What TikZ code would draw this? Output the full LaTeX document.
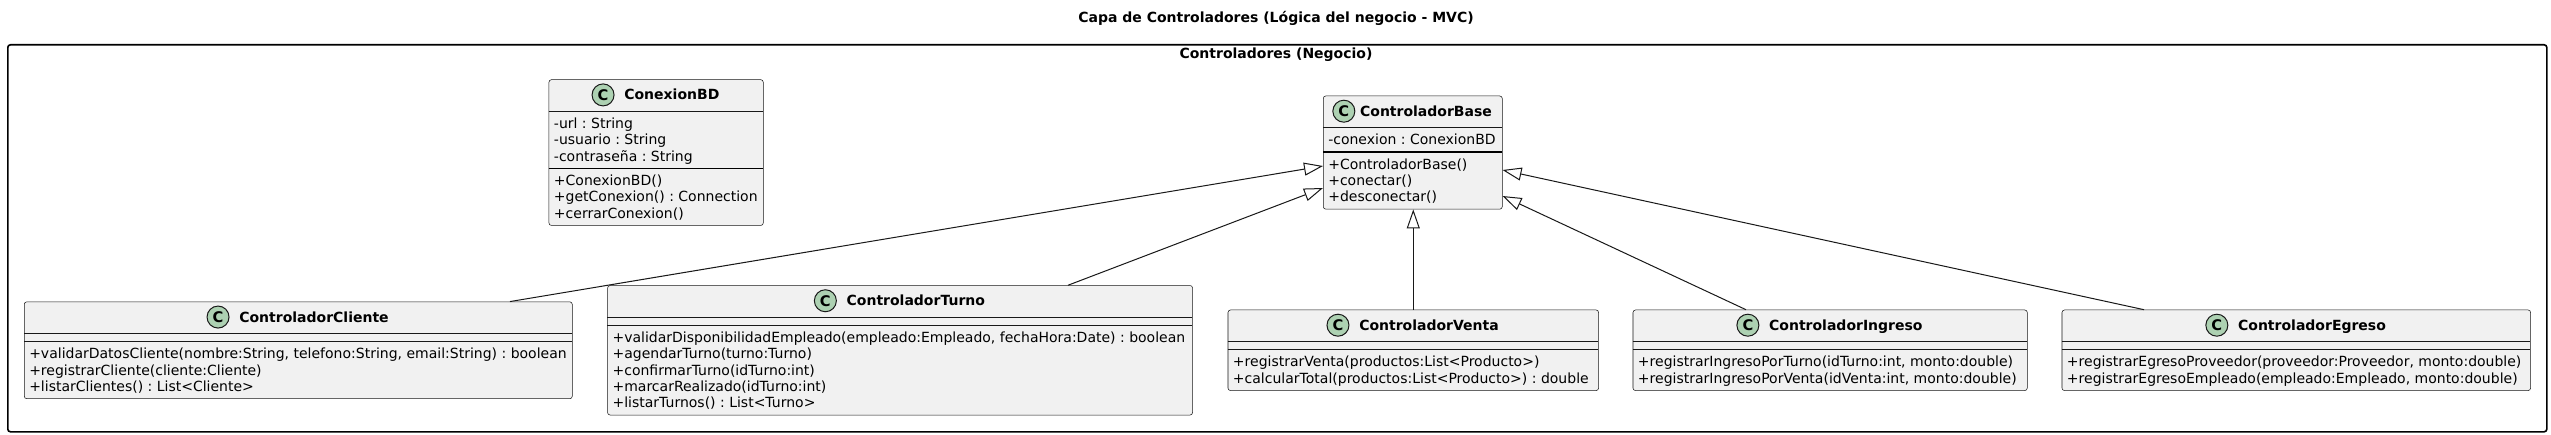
\documentclass[tikz,border=0pt]{standalone}
\usepackage{fontspec}
\setmainfont{DejaVu Sans}
\usetikzlibrary{arrows.meta,calc}
\frenchspacing
\definecolor{umlborder}{HTML}{181818}
\definecolor{umlfill}{HTML}{F1F1F1}
\definecolor{umlicon}{HTML}{ADD1B2}
\newcommand{\memberfont}{\fontsize{10.5}{12.2}\selectfont\frenchspacing}
\newcommand{\namefont}{\fontsize{10.5}{12.2}\selectfont\bfseries\frenchspacing}
\newcommand{\iconfont}{\fontsize{11}{12}\selectfont\bfseries}
\tikzset{
  classbox/.style={draw=umlborder, fill=umlfill, line width=0.4pt, rounded corners=1.9pt, inner sep=0pt, anchor=north west},
  sepline/.style={draw=umlborder, line width=0.4pt},
  strongsep/.style={draw=black, line width=0.8pt},
  member/.style={anchor=base west, inner sep=0pt, font=\memberfont},
  cname/.style={anchor=base, inner sep=0pt, font=\namefont},
  cicon/.style={circle, draw=umlborder, fill=umlicon, line width=0.75pt, minimum size=16.5pt, inner sep=0pt, font=\iconfont},
  inherit/.style={draw=umlborder, line width=0.75pt, -{Triangle[length=14.25pt,width=9.75pt,fill=white]}},
  pkgframe/.style={draw=black, line width=1.2pt, rounded corners=2pt, inner sep=0pt, anchor=north west},
  titletext/.style={anchor=base, inner sep=0pt, font=\namefont},
}
\begin{document}
\begin{tikzpicture}[x=0.75pt,y=-0.75pt]
\useasboundingbox (0,0) rectangle (2551,435);
\fill[white] (0,0) rectangle (2551,435);

% title and package
\node[titletext] (title) at (1276,23) {Capa de Controladores (Lógica del negocio - MVC)};
\node[pkgframe, minimum width=1904.25pt, minimum height=290.25pt] (pkg) at (7,44) {};
\node[titletext] (pkgname) at (1276,59) {Controladores (Negocio)};

% ---------------- ConexionBD
\node[classbox, minimum width=160.725pt, minimum height=109.35pt] (cbd) at (548.7,79.4) {};
\draw[sepline] (548.7,111.4) -- (763,111.4);
\draw[strongsep] (548.7,168.3) -- (763,168.3);
\node[cname] (cbdN) at (671.85,99.9) {ConexionBD};
\node[cicon] (cbdI) at ([xshift=-15.75pt,yshift=3.75pt]cbdN.base west) {C};
\node[member] (cbdA1) at (553.7,128.55) {-url : String};
\node[member] (cbdA2) at (553.7,144.85) {-usuario : String};
\node[member] (cbdA3) at (553.7,161.15) {-contraseña : String};
\node[member] (cbdM1) at (553.7,185.45) {+ConexionBD()};
\node[member] (cbdM2) at (553.7,201.75) {+getConexion() : Connection};
\node[member] (cbdM3) at (553.7,218.05) {+cerrarConexion()};

% ---------------- ControladorBase
\node[classbox, minimum width=134.25pt, minimum height=84.9pt] (base) at (1323,95.7) {};
\draw[sepline] (1323,127.7) -- (1502,127.7);
\draw[strongsep] (1323,152.0) -- (1502,152.0);
\node[cname] (baseN) at (1426,116.2) {ControladorBase};
\node[cicon] (baseI) at ([xshift=-12pt,yshift=3.75pt]baseN.base west) {C};
\node[member] (baseA1) at (1328,144.85) {-conexion : ConexionBD};
\node[member] (baseM1) at (1328,169.15) {+ControladorBase()};
\node[member] (baseM2) at (1328,185.45) {+conectar()};
\node[member] (baseM3) at (1328,201.75) {+desconectar()};

% ---------------- ControladorCliente
\node[classbox, minimum width=411pt, minimum height=72.675pt] (cli) at (24,301.55) {};
\draw[sepline] (24,333.55) -- (572,333.55);
\draw[sepline] (24,341.55) -- (572,341.55);
\node[cname] (cliN) at (314,322.05) {ControladorCliente};
\node[cicon] (cliI) at ([xshift=-15.75pt,yshift=3.75pt]cliN.base west) {C};
\node[member] (cliM1) at (29,358.7) {+validarDatosCliente(nombre:String, telefono:String, email:String) : boolean};
\node[member] (cliM2) at (29,375.0) {+registrarCliente(cliente:Cliente)};
\node[member] (cliM3) at (29,391.3) {+listarClientes() : List<Cliente>};

% ---------------- ControladorTurno
\node[classbox, minimum width=438.75pt, minimum height=97.125pt] (tur) at (607.3,285.25) {};
\draw[sepline] (607.3,317.25) -- (1192.3,317.25);
\draw[sepline] (607.3,325.25) -- (1192.3,325.25);
\node[cname] (turN) at (915.8,305.75) {ControladorTurno};
\node[cicon] (turI) at ([xshift=-15.75pt,yshift=3.75pt]turN.base west) {C};
\node[member] (turM1) at (612.3,342.4) {+validarDisponibilidadEmpleado(empleado:Empleado, fechaHora:Date) : boolean};
\node[member] (turM2) at (612.3,358.7) {+agendarTurno(turno:Turno)};
\node[member] (turM3) at (612.3,375.0) {+confirmarTurno(idTurno:int)};
\node[member] (turM4) at (612.3,391.3) {+marcarRealizado(idTurno:int)};
\node[member] (turM5) at (612.3,407.6) {+listarTurnos() : List<Turno>};

% ---------------- ControladorVenta
\node[classbox, minimum width=277.95pt, minimum height=60.45pt] (ven) at (1227.7,309.7) {};
\draw[sepline] (1227.7,341.7) -- (1598.3,341.7);
\draw[sepline] (1227.7,349.7) -- (1598.3,349.7);
\node[cname] (venN) at (1429,330.2) {ControladorVenta};
\node[cicon] (venI) at ([xshift=-15.75pt,yshift=3.75pt]venN.base west) {C};
\node[member] (venM1) at (1232.7,366.85) {+registrarVenta(productos:List<Producto>)};
\node[member] (venM2) at (1232.7,383.15) {+calcularTotal(productos:List<Producto>) : double};

% ---------------- ControladorIngreso
\node[classbox, minimum width=295.725pt, minimum height=60.45pt] (ing) at (1632.7,309.7) {};
\draw[sepline] (1632.7,341.7) -- (2027,341.7);
\draw[sepline] (1632.7,349.7) -- (2027,349.7);
\node[cname] (ingN) at (1845.85,330.2) {ControladorIngreso};
\node[cicon] (ingI) at ([xshift=-15.75pt,yshift=3.75pt]ingN.base west) {C};
\node[member] (ingM1) at (1637.7,366.85) {+registrarIngresoPorTurno(idTurno:int, monto:double)};
\node[member] (ingM2) at (1637.7,383.15) {+registrarIngresoPorVenta(idVenta:int, monto:double)};

% ---------------- ControladorEgreso
\node[classbox, minimum width=351.45pt, minimum height=60.45pt] (egr) at (2061.7,309.7) {};
\draw[sepline] (2061.7,341.7) -- (2530.3,341.7);
\draw[sepline] (2061.7,349.7) -- (2530.3,349.7);
\node[cname] (egrN) at (2312,330.2) {ControladorEgreso};
\node[cicon] (egrI) at ([xshift=-15.75pt,yshift=3.75pt]egrN.base west) {C};
\node[member] (egrM1) at (2066.7,366.85) {+registrarEgresoProveedor(proveedor:Proveedor, monto:double)};
\node[member] (egrM2) at (2066.7,383.15) {+registrarEgresoEmpleado(empleado:Empleado, monto:double)};

% ---------------- inheritance connectors
\coordinate (cliS) at ($(cli.north west)+(486,0)$);
\coordinate (turS) at ($(tur.north west)+(460.7,0)$);
\coordinate (ingS) at ($(ing.north west)+(113.3,0)$);
\coordinate (egrS) at ($(egr.north west)+(82.3,0)$);
\coordinate (baseL1) at ($(base.north west)+(0,70.3)$);
\coordinate (baseL2) at ($(base.north west)+(0,92.3)$);
\coordinate (baseR1) at ($(base.north east)+(0,74.3)$);
\coordinate (baseR2) at ($(base.north east)+(0,100.3)$);
\draw[inherit] (cliS) -- (baseL1);
\draw[inherit] (turS) -- (baseL2);
\draw[inherit] (ven.north) -- (ven.north |- base.south);
\draw[inherit] (ingS) -- (baseR2);
\draw[inherit] (egrS) -- (baseR1);
\end{tikzpicture}
\end{document}
